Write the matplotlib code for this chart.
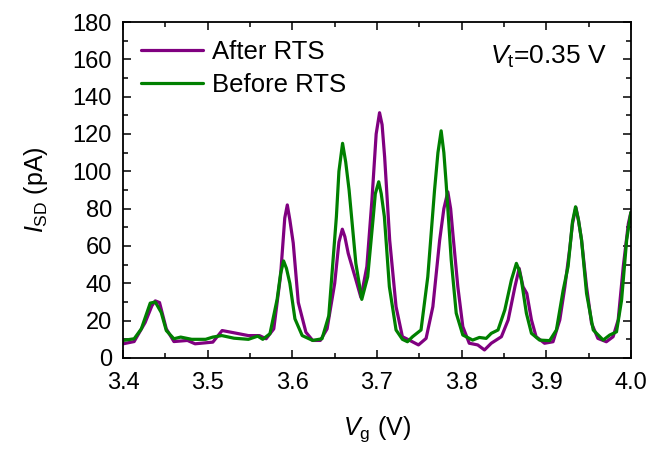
import matplotlib
matplotlib.use("Agg")
import matplotlib.pyplot as plt
from matplotlib.ticker import MultipleLocator

plt.rcParams['font.family'] = ['Liberation Sans', 'DejaVu Sans']
plt.rcParams['mathtext.fontset'] = 'custom'
plt.rcParams['mathtext.rm'] = 'Liberation Sans'
plt.rcParams['mathtext.it'] = 'Liberation Sans:italic'

after_v = [3.400, 3.413, 3.426, 3.434, 3.438, 3.443, 3.451, 3.460, 3.476, 3.485, 3.506, 3.517,
           3.531, 3.548, 3.561, 3.569, 3.578, 3.586, 3.591, 3.594, 3.597, 3.601, 3.607, 3.616, 3.624,
           3.633, 3.641, 3.650, 3.655, 3.659, 3.662, 3.666, 3.675, 3.681, 3.688, 3.694, 3.699, 3.703,
           3.706, 3.709, 3.715, 3.7225, 3.730, 3.738, 3.749, 3.758, 3.766, 3.774, 3.779, 3.7837,
           3.787, 3.7896, 3.7955, 3.8014, 3.809, 3.819, 3.827, 3.835, 3.847, 3.855, 3.863, 3.868,
           3.8725, 3.877, 3.8825, 3.888, 3.898, 3.908, 3.916, 3.922, 3.928, 3.931, 3.935, 3.938,
           3.9417, 3.9476, 3.9535, 3.961, 3.971, 3.979, 3.985, 3.991, 3.997, 4.000]
after_i = [7.6, 8.8, 19, 28, 30.6, 29.7, 15.6, 8.8, 9.4, 7.6, 8.5, 14.7,
           13.5, 12, 12, 10.3, 15.6, 44, 75, 82, 74, 61.6, 29.7, 13.8, 9.4,
           9.4, 15.6, 40, 62, 69, 65, 56, 42, 32.4, 49, 84.6, 120, 131.4,
           125, 107.8, 63, 27.5, 11.4, 9.6, 7, 10.5, 27.5, 63, 80, 89,
           80, 66.8, 38.2, 16.8, 7.9, 7, 4.3, 7.9, 11.4, 20.4, 38.2, 48,
           38.2, 34.6, 20.4, 11.4, 7.9, 8.7, 20.4, 38.2, 59.6, 72, 80.7, 74,
           63.2, 38.2, 18.6, 10.5, 8.7, 11.4, 20.4, 49, 72, 78]

before_v = [3.400, 3.413, 3.4215, 3.432, 3.438, 3.445, 3.451, 3.460, 3.468, 3.481, 3.4975,
            3.506, 3.5166, 3.531, 3.548, 3.559, 3.565, 3.5735, 3.582, 3.586, 3.5896, 3.593, 3.597,
            3.603, 3.6116, 3.624, 3.635, 3.643, 3.652, 3.655, 3.6593, 3.663, 3.667, 3.675, 3.682,
            3.689, 3.6956, 3.698, 3.702, 3.705, 3.7087, 3.7146, 3.7225, 3.730, 3.736, 3.742, 3.752,
            3.760, 3.768, 3.772, 3.7758, 3.779, 3.7817, 3.7877, 3.7936, 3.8014, 3.813, 3.821, 3.829,
            3.835, 3.843, 3.851, 3.8588, 3.8647, 3.868, 3.8706, 3.8765, 3.8825, 3.892, 3.904, 3.912,
            3.920, 3.9258, 3.931, 3.9346, 3.938, 3.9417, 3.9476, 3.9555, 3.9673, 3.975, 3.983, 3.989,
            3.995, 4.000]
before_i = [9.4, 10.3, 15.6, 29.4, 30, 24.4, 14.7, 10.3, 11.2, 10, 10,
            11.2, 12, 10.6, 10, 11.7, 10, 13, 31.5, 45, 52, 48, 40,
            21, 12, 9.4, 10.3, 22.6, 75.7, 100, 115, 105, 90, 50.7, 31.4,
            43.5, 75.7, 88, 94.4, 88, 75.7, 38.2, 15, 10, 8.7, 11.4, 15,
            43.5, 90, 110, 121.7, 110, 93.6, 52.5, 24, 12.3, 9.6, 11, 10.5,
            13.2, 15, 25.7, 41.8, 50.7, 47, 41.8, 24, 13.2, 9.6, 9.3, 15,
            36.4, 49, 73, 81, 74, 63.2, 34.6, 15, 9.6, 12.3, 14, 31,
            63.2, 78]

fig = plt.figure(figsize=(6.62, 4.49), dpi=100)
ax = fig.add_axes([0.186, 0.2027, 0.767, 0.7483])

ax.plot(after_v, after_i, color='#800080', lw=2.3, label='After RTS',
        solid_joinstyle='round', solid_capstyle='round')
ax.plot(before_v, before_i, color='#008000', lw=2.3, label='Before RTS',
        solid_joinstyle='round', solid_capstyle='round')

ax.set_xlim(3.4, 4.0)
ax.set_ylim(0, 180)
ax.xaxis.set_major_locator(MultipleLocator(0.1))
ax.xaxis.set_minor_locator(MultipleLocator(0.05))
ax.yaxis.set_major_locator(MultipleLocator(20))
ax.yaxis.set_minor_locator(MultipleLocator(10))
ax.tick_params(which='both', direction='in', top=True, right=True, labelsize=17, width=1.1)
ax.tick_params(which='major', length=6)
ax.tick_params(axis='x', which='major', pad=10)
ax.tick_params(axis='y', which='major', pad=8)
ax.tick_params(which='minor', length=3.5)
for s in ax.spines.values():
    s.set_linewidth(1.3)

ax.set_xlabel(r'$\mathit{V}_{\mathrm{g}}$ (V)', fontsize=18, labelpad=15)
ax.set_ylabel(r'$\mathit{I}_{\mathrm{SD}}$ (pA)', fontsize=18, labelpad=16)

ax.legend(loc='upper left', frameon=False, fontsize=18.5, handlelength=2.4,
          handletextpad=0.35, labelspacing=0.35, borderaxespad=0.4, borderpad=0.3)
ax.text(0.953, 0.935, r'$\mathit{V}_{\mathrm{t}}$=0.35 V', transform=ax.transAxes,
        ha='right', va='top', fontsize=19)

fig.savefig('out.png', dpi=100)
